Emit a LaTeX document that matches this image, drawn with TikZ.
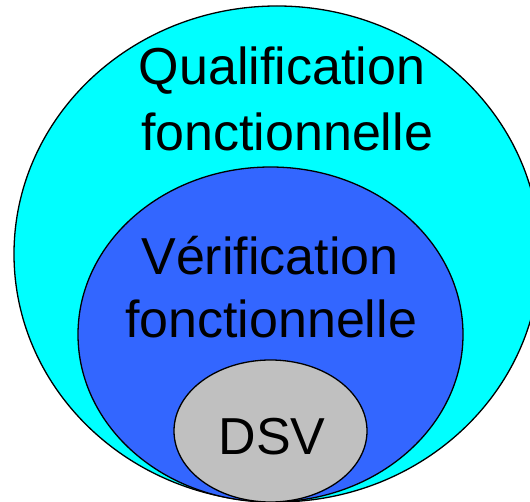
\documentclass[tikz,border=0pt]{standalone}
\usepackage{fontspec}
\setmainfont{Liberation Sans}
\definecolor{outerfill}{HTML}{00FFFF}
\definecolor{midfill}{HTML}{3366FF}
\definecolor{innerfill}{HTML}{C0C0C0}
\begin{document}
\begin{tikzpicture}[x=1pt,y=-1pt,
  zone/.style={draw=black,line width=1.3pt},
  label/.style={anchor=base,inner sep=0pt,font=\fontsize{52}{62}\selectfont,text=black}]
\useasboundingbox (0,0) rectangle (530,502);
\clip (0,0) rectangle (530,502);
\path[zone,fill=outerfill] (277,254) ellipse [x radius=263, y radius=248];
\path[zone,fill=midfill] (270.5,334.5) ellipse [x radius=192.5, y radius=167.5];
\path[zone,fill=innerfill] (270.5,431) ellipse [x radius=96.5, y radius=71];
\node[label] (q1) at (282,85) {Qualification};
\node[label] (q2) at (287,151) {fonctionnelle};
\node[label] (v1) at (270,275) {Vérification};
\node[label] (v2) at (271,338) {fonctionnelle};
\node[label] (dsv) at (272,454) {DSV};
\end{tikzpicture}
\end{document}
